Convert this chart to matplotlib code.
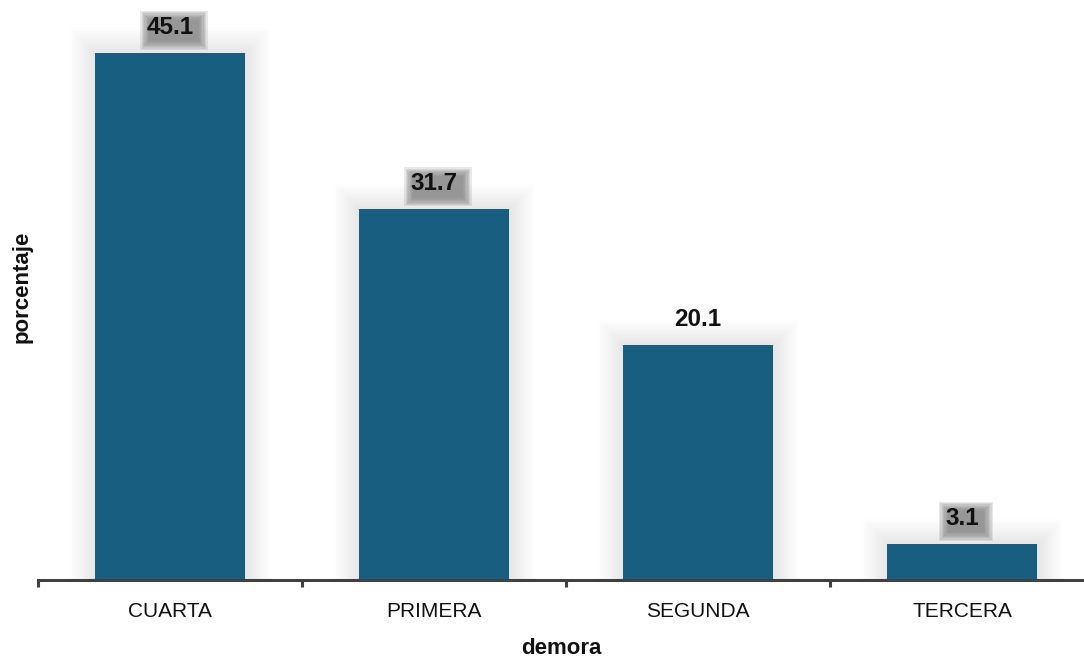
import matplotlib
matplotlib.use("Agg")
import matplotlib.pyplot as plt
import matplotlib.patheffects as pe
from matplotlib.patches import Rectangle
from matplotlib.transforms import IdentityTransform
from matplotlib.ticker import FixedLocator

categories = ["CUARTA", "PRIMERA", "SEGUNDA", "TERCERA"]
porcentaje = [45.1, 31.7, 20.1, 3.1]
boxed = [True, True, False, True]

BAR_COLOR = "#185e80"
AXIS_COLOR = "#404040"

plt.rcParams["font.family"] = ["Liberation Sans", "DejaVu Sans"]

W, H = 1084, 658
fig = plt.figure(figsize=(W / 100, H / 100), dpi=100)
left, bottom, top = 38, 580, 10
ax = fig.add_axes([left / W, (H - bottom) / H, 1 - left / W, (bottom - top) / H])

x = list(range(len(categories)))

# soft glow around each bar
glow = [pe.Stroke(linewidth=w, foreground="black", alpha=0.008) for w in range(36, 0, -3)]
bars = ax.bar(x, porcentaje, width=0.57, color=BAR_COLOR, zorder=3)
for b in bars:
    b.set_path_effects(glow + [pe.Normal()])

ax.set_xlim(-0.5, -0.5 + (W - left) / 264)
ax.set_ylim(0, (bottom - top) / 11.69)

# value labels
labels = []
for xi, v in zip(x, porcentaje):
    t = ax.annotate(f"{v:.1f}", (xi, v), xytext=(0, 13.7), textcoords="offset points",
                    ha="center", va="baseline", fontsize=17.5, fontweight="bold",
                    color="#111111", zorder=5)
    labels.append(t)

for s in ["top", "right", "left"]:
    ax.spines[s].set_visible(False)
ax.spines["bottom"].set_color(AXIS_COLOR)
ax.spines["bottom"].set_linewidth(2.2)
ax.spines["bottom"].set_zorder(6)

ax.set_yticks([])
ax.set_xticks(x)
ax.set_xticklabels(categories, fontsize=15, color="#111111")
ax.xaxis.set_minor_locator(FixedLocator([i - 0.5 for i in range(len(categories) + 1)]))
ax.tick_params(axis="x", which="major", length=0, pad=16)
ax.tick_params(axis="x", which="minor", length=5, width=2.2, color=AXIS_COLOR, direction="out")

ax.set_xlabel("demora", fontsize=16, fontweight="bold", labelpad=12, color="#111111")
ax.set_ylabel("porcentaje", fontsize=16, fontweight="bold", color="#111111")
ax.yaxis.set_label_coords(-5 / (W - left), 0.514)

# soft grey backing boxes behind most value labels (built in pixel space)
fig.canvas.draw()
renderer = fig.canvas.get_renderer()
for t, has_box in zip(labels, boxed):
    if not has_box:
        continue
    bb = t.get_window_extent(renderer)
    x0, x1 = bb.x0 - 2, bb.x1 + 10
    y0, y1 = bb.y0 - 7, bb.y1 + 1
    for k in range(8):
        e = -5 + k * 1.3
        r = Rectangle((x0 - e, y0 - e), (x1 - x0) + 2 * e, (y1 - y0) + 2 * e,
                      transform=IdentityTransform(), facecolor="#808080",
                      edgecolor="none", alpha=0.18, zorder=4, clip_on=False)
        ax.add_artist(r)

fig.savefig("out.png", dpi=100)
